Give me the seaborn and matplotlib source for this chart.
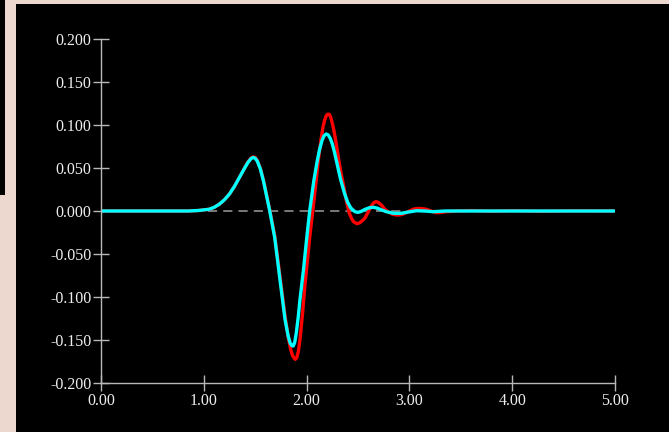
import pandas as pd
import numpy as np
import seaborn as sns
import matplotlib.pyplot as plt
from matplotlib.patches import Rectangle

# traced curve values (time, amplitude)
red_x = [0.00, 0.50, 0.85, 0.95, 1.05, 1.10, 1.15, 1.20, 1.25, 1.30, 1.35, 1.40, 1.43, 1.46, 1.48,
         1.50, 1.52, 1.55, 1.58, 1.61, 1.64, 1.69, 1.74, 1.79, 1.82, 1.845, 1.86, 1.875, 1.89,
         1.905, 1.92, 1.935, 1.96, 1.983, 2.01, 2.03, 2.06, 2.09, 2.115, 2.14, 2.16, 2.175,
         2.19, 2.205, 2.22, 2.235, 2.25, 2.265, 2.28, 2.307, 2.33, 2.362, 2.388, 2.414, 2.436,
         2.46, 2.49, 2.52, 2.566, 2.60, 2.63, 2.655, 2.673, 2.69, 2.71, 2.735, 2.76, 2.793,
         2.83, 2.874, 2.91, 2.94, 3.00, 3.04, 3.084, 3.12, 3.165, 3.21, 3.26, 3.30, 3.36,
         3.45, 3.60, 3.80, 4.00, 4.30, 4.60, 5.00]
red_y = [0.0, 0.0, 0.0, 0.0006, 0.002, 0.0042, 0.0078, 0.013, 0.0198, 0.029, 0.0398, 0.0508, 0.0572, 0.0618, 0.063,
         0.0622, 0.0588, 0.0495, 0.036, 0.019, 0.002, -0.029, -0.075, -0.122, -0.146, -0.161, -0.167, -0.1705, -0.1725,
         -0.1705, -0.163, -0.150, -0.120, -0.087, -0.055, -0.031, 0.0, 0.032, 0.060, 0.083, 0.098, 0.1055,
         0.1105, 0.1125, 0.1125, 0.109, 0.102, 0.094, 0.084, 0.064, 0.047, 0.028, 0.011, -0.002, -0.0085,
         -0.0128, -0.0148, -0.0135, -0.0085, -0.001, 0.006, 0.0098, 0.0108, 0.0104, 0.0088, 0.006, 0.002, -0.0008,
         -0.0035, -0.0047, -0.0045, -0.0035, 0.0, 0.0022, 0.003, 0.0028, 0.002, 0.0, -0.002, -0.0018, -0.0008,
         0.0, 0.0005, -0.0003, 0.0004, -0.0004, 0.0003, 0.0]

cyan_x = [0.00, 0.50, 0.85, 0.95, 1.05, 1.10, 1.15, 1.20, 1.25, 1.30, 1.35, 1.40, 1.43, 1.46, 1.48,
          1.50, 1.52, 1.55, 1.58, 1.61, 1.64, 1.69, 1.74, 1.79, 1.82, 1.84, 1.855, 1.87, 1.885,
          1.90, 1.92, 1.935, 1.97, 2.00, 2.03, 2.07, 2.10, 2.125, 2.15, 2.17, 2.19, 2.21, 2.23,
          2.25, 2.27, 2.30, 2.33, 2.37, 2.40, 2.43, 2.47, 2.50, 2.53, 2.57, 2.61, 2.65, 2.69,
          2.73, 2.78, 2.85, 2.92, 3.00, 3.07, 3.15, 3.23, 3.35, 3.60, 4.00, 4.50, 5.00]
cyan_y = [0.0, 0.0, 0.0, 0.0006, 0.002, 0.0042, 0.0078, 0.013, 0.0198, 0.029, 0.0398, 0.0505, 0.0565, 0.0610, 0.0622,
          0.0613, 0.058, 0.049, 0.035, 0.018, 0.001, -0.031, -0.079, -0.126, -0.145, -0.1535, -0.1565, -0.157, -0.1525,
          -0.1415, -0.122, -0.1035, -0.068, -0.033, 0.0, 0.035, 0.056, 0.071, 0.082, 0.0875, 0.0895, 0.0885, 0.0845,
          0.078, 0.069, 0.053, 0.037, 0.020, 0.010, 0.0035, -0.0008, -0.0016, -0.0005, 0.002, 0.0038, 0.0043, 0.0032,
          0.0012, -0.001, -0.0027, -0.0027, -0.001, 0.0003, 0.0, -0.0008, 0.0, 0.0, 0.0, 0.0, 0.0]

x_ticks = [0, 1, 2, 3, 4, 5]
x_labels = ['0.00', '1.00', '2.00', '3.00', '4.00', '5.00']
y_ticks = [-0.2, -0.15, -0.1, -0.05, 0.0, 0.05, 0.1, 0.15, 0.2]
y_labels = ['-0.200', '-0.150', '-0.100', '-0.050', '0.000', '0.050', '0.100', '0.150', '0.200']

df = pd.concat([
    pd.DataFrame({'t': red_x, 'v': red_y, 'trace': 'red'}),
    pd.DataFrame({'t': cyan_x, 'v': cyan_y, 'trace': 'cyan'}),
])

sns.set_theme(style="dark")
plt.rcParams['font.family'] = ['Liberation Serif', 'DejaVu Serif']

fig = plt.figure(figsize=(6.69, 4.32), dpi=100)
fig.patch.set_facecolor('#ecd8cf')
# black panel over the textured page (kept under the axes)
fig.patches.append(Rectangle((16 / 669, 0), 1, (432 - 4) / 432, transform=fig.transFigure,
                             facecolor='black', edgecolor='none', zorder=-2))
fig.patches.append(Rectangle((0, (432 - 195) / 432), 5 / 669, 1, transform=fig.transFigure,
                             facecolor='black', edgecolor='none', zorder=-2))

ax = fig.add_axes([101 / 669, 49 / 432, 514 / 669, 344 / 432])
ax.set_facecolor('black')
ax.patch.set_alpha(0)

ax.axhline(0, color='#9a9a9a', lw=1.1, dashes=(6, 4), zorder=1)
sns.lineplot(data=df, x='t', y='v', hue='trace', hue_order=['red', 'cyan'],
             palette={'red': '#ff0000', 'cyan': '#00ffff'}, linewidth=2.4,
             legend=False, ax=ax, zorder=2)
for line in ax.lines:
    line.set_solid_joinstyle('round')

ax.set_xlim(0, 5)
ax.set_ylim(-0.2, 0.2)
ax.set_xticks(x_ticks)
ax.set_xticklabels(x_labels)
ax.set_yticks(y_ticks)
ax.set_yticklabels(y_labels)
ax.set_xlabel('')
ax.set_ylabel('')
ax.grid(False)

for side in ['top', 'right']:
    ax.spines[side].set_visible(False)
for side in ['left', 'bottom']:
    ax.spines[side].set_visible(True)
    ax.spines[side].set_color('#b8b8b8')
    ax.spines[side].set_linewidth(1.0)

ax.tick_params(axis='both', direction='inout', length=12, width=1.0, color='#b8b8b8',
               labelcolor='#eeeeee', labelsize=11.5, bottom=True, left=True)
ax.tick_params(axis='x', pad=1.5)
ax.tick_params(axis='y', pad=1)

plt.savefig('out.png', dpi=100, facecolor=fig.get_facecolor())
